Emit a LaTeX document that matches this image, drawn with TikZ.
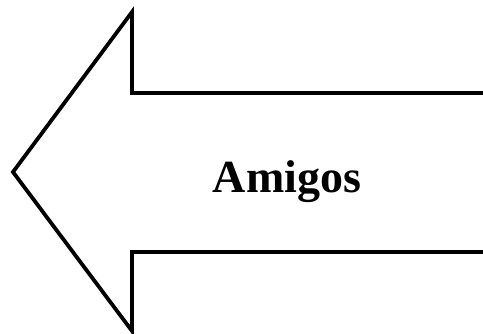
\documentclass[tikz,border=0pt]{standalone}
\usepackage{fontspec}
\setmainfont{Liberation Serif}
\begin{document}
\begin{tikzpicture}[x=1pt,y=-1pt,
  arrowline/.style={draw=black,line width=3.8pt,line join=miter},
  label/.style={font=\bfseries\fontsize{46}{50}\selectfont,inner sep=0pt,anchor=base}]
\useasboundingbox (0,0) rectangle (483,334);
\coordinate (st) at (490,93);
\coordinate (a) at (132,93);
\coordinate (b) at (132,12);
\coordinate (tip) at (13,172);
\coordinate (c) at (132,331);
\coordinate (d) at (132,252);
\coordinate (sb) at (490,252);
\draw[arrowline] (st) -- (a) -- (b) -- (tip) -- (c) -- (d) -- (sb);
\node[label] (t) at (287,193) {Amigos};
\end{tikzpicture}
\end{document}
